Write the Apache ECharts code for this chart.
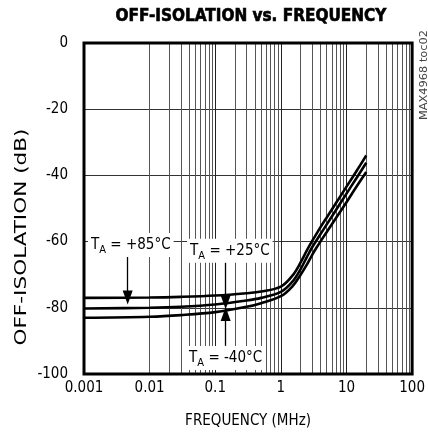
<!DOCTYPE html>
<html><head><meta charset="utf-8">
<script src="https://cdn.jsdelivr.net/npm/echarts@6/dist/echarts.min.js"></script>
<style>html,body{margin:0;padding:0;background:#fff}#c{width:428px;height:437px}</style>
</head><body><div id="c"></div>
<script>
// ---- data ----
const freqMHz = [0.001, 0.01, 0.03, 0.1, 0.3, 0.5, 1, 1.5, 2, 2.5, 3, 3.5, 4, 5, 7, 10, 14, 20];
const isoP85 = [-77.0, -76.9, -76.7, -76.3, -75.6, -75.1, -73.6, -70.3, -66.3, -62.6, -59.8, -57.6, -55.7, -52.7, -48.2, -43.4, -38.9, -34.0];
const isoP25 = [-80.2, -80.0, -79.7, -79.0, -77.8, -77.0, -75.2, -72.1, -68.3, -64.6, -61.7, -59.6, -57.8, -54.8, -50.3, -45.5, -41.0, -36.2];
const isoM40 = [-83.0, -82.7, -82.2, -81.3, -79.7, -78.6, -76.5, -73.5, -70.0, -66.9, -64.0, -61.8, -60.0, -57.1, -52.7, -48.1, -43.6, -39.0];
const xTickLabels = ['0.001', '0.01', '0.1', '1', '10', '100'];
const xTickValues = [0.001, 0.01, 0.1, 1, 10, 100];
const minorFreqs = [];
[0.001, 0.01, 0.1, 1, 10].forEach(d => { for (let k = 2; k <= 9; k++) minorFreqs.push(+(d * k).toPrecision(3)); });
// annotations (data coordinates)
const labelP85 = { text: '+85°C', at: [0.00517, -61.0], arrowFrom: [0.00463, -64.6], arrowTo: [0.00463, -76.9] };
const labelP25 = { text: '+25°C', at: [0.167, -62.8], arrowFrom: [0.144, -66.2], arrowTo: [0.144, -78.3] };
const labelM40 = { text: '-40°C', at: [0.144, -95.2], arrowFrom: [0.144, -91.5], arrowTo: [0.144, -81.9] };

const FONT = "'Liberation Sans Narrow', 'DejaVu Sans Condensed', 'Noto Sans', sans-serif";
const pairs = (ys) => freqMHz.map((f, i) => [f, ys[i]]);

function tempLabel(l) {
  return {
    coord: l.at, symbol: 'rect', symbolSize: 1,
    itemStyle: { color: 'rgba(0,0,0,0)' },
    label: {
      show: true, position: 'inside', offset: [0, 0],
      formatter: '{t|T}{s|A}{t| = ' + l.text + '}',
      backgroundColor: '#fff', padding: [1, 3, 1, 3],
      rich: {
        t: { fontFamily: FONT, fontSize: 15, color: '#000', lineHeight: 22, verticalAlign: 'middle' },
        s: { fontFamily: FONT, fontSize: 11, color: '#000', lineHeight: 22, verticalAlign: 'bottom' }
      }
    }
  };
}
function arrow(l) {
  return [
    { coord: l.arrowFrom, symbol: 'none' },
    { coord: l.arrowTo, symbol: 'triangle', symbolSize: [10, 14] }
  ];
}

const curveStyle = { color: '#000', width: 2.6 };
const mkSeries = (name, ys) => ({
  name, type: 'line', data: pairs(ys), smooth: 0.35, showSymbol: false,
  lineStyle: curveStyle, itemStyle: { color: '#000' }, silent: true, z: 5
});

const chart = echarts.init(document.getElementById('c'), null, { renderer: 'canvas' });
chart.setOption({
  animation: false,
  backgroundColor: '#fff',
  title: {
    text: 'OFF-ISOLATION vs. FREQUENCY', left: 246, top: 3, textAlign: 'center',
    textStyle: { fontFamily: FONT, fontWeight: 'bold', fontSize: 17, color: '#000', textBorderColor: '#000', textBorderWidth: 0.6 }
  },
  grid: { left: 84, right: 11, top: 43, bottom: 63, show: true, borderColor: '#000', borderWidth: 3, backgroundColor: 'transparent', z: 10 },
  xAxis: {
    type: 'log', logBase: 10, min: 0.001, max: 100,
    name: 'FREQUENCY (MHz)', nameLocation: 'middle', nameGap: 40,
    nameTextStyle: { fontFamily: FONT, fontSize: 15, color: '#000' },
    axisLine: { show: false }, axisTick: { show: false },
    axisLabel: {
      fontFamily: FONT, fontSize: 15, color: '#000', margin: 7,
      formatter: v => { const i = xTickValues.findIndex(t => Math.abs(Math.log10(t) - Math.log10(v)) < 1e-6); return i >= 0 ? xTickLabels[i] : ''; }
    },
    splitLine: { show: true, lineStyle: { color: '#222', width: 1 } }
  },
  yAxis: {
    type: 'value', min: -100, max: 0, interval: 20,
    axisLine: { show: false }, axisTick: { show: false },
    axisLabel: { fontFamily: FONT, fontSize: 15, color: '#000', margin: 16 },
    splitLine: { show: true, lineStyle: { color: '#333', width: 1 } }
  },
  series: [
    {
      name: 'grid-minor', type: 'line', data: [], silent: true, z: 1,
      markLine: {
        silent: true, symbol: ['none', 'none'], animation: false,
        label: { show: false },
        lineStyle: { color: '#555', width: 1, type: 'solid' },
        data: minorFreqs.map(f => ({ xAxis: f }))
      }
    },
    Object.assign(mkSeries('TA = +85°C', isoP85), {
      markLine: { silent: true, animation: false, label: { show: false }, lineStyle: { color: '#000', width: 1.3, type: 'solid' }, data: [arrow(labelP85), arrow(labelP25), arrow(labelM40)] },
      markPoint: { silent: true, animation: false, data: [tempLabel(labelP85), tempLabel(labelP25), tempLabel(labelM40)] }
    }),
    mkSeries('TA = +25°C', isoP25),
    mkSeries('TA = -40°C', isoM40)
  ],
  graphic: [
    {
      type: 'text', x: 22, y: 237, rotation: Math.PI / 2, scaleX: 1.6,
      style: { text: 'OFF-ISOLATION (dB)', fontFamily: FONT, fontSize: 15, fill: '#000', align: 'center', verticalAlign: 'middle' }
    },
    {
      type: 'text', x: 424, y: 75, rotation: Math.PI / 2, scaleX: 1.15,
      style: { text: 'MAX4968 toc02', fontFamily: FONT, fontSize: 11, fill: '#444', align: 'center', verticalAlign: 'middle' }
    }
  ]
});
</script></body></html>
